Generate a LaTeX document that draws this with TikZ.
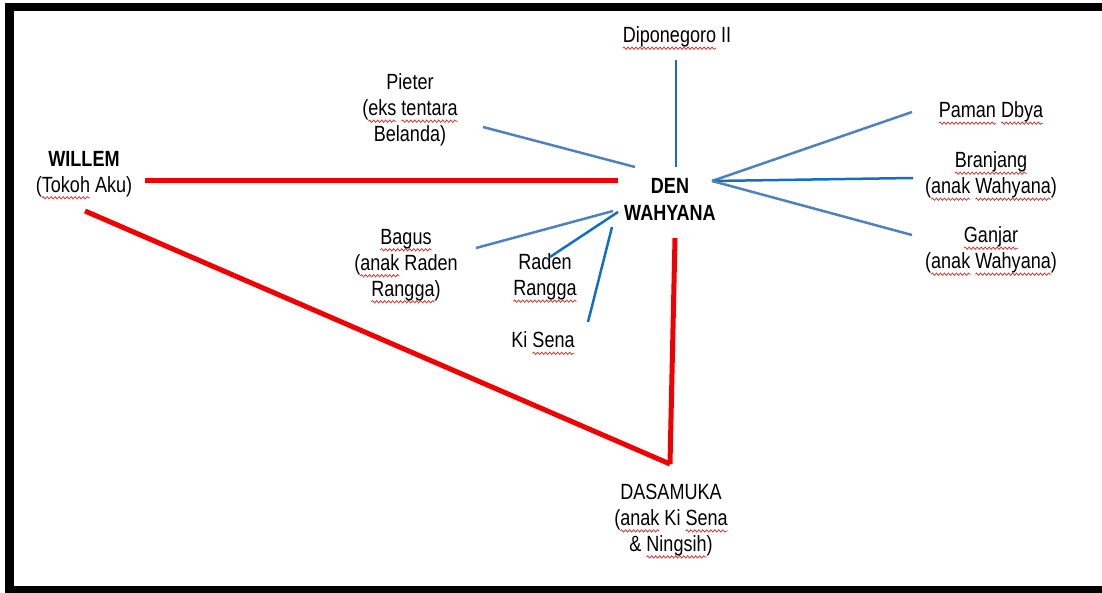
\documentclass[tikz,border=0pt]{standalone}
\usepackage{fontspec}
\setmainfont[FakeStretch=0.82]{Liberation Sans}
\usetikzlibrary{decorations.pathmorphing}
\definecolor{lblue}{RGB}{79,129,189}
\definecolor{bblue}{RGB}{20,110,195}
\definecolor{lred}{RGB}{240,0,0}
\definecolor{sqred}{RGB}{215,40,40}
\newsavebox\sqbox
\newlength\sqlen
\newcommand\sq[1]{\leavevmode\sbox\sqbox{#1}\setlength\sqlen{\wd\sqbox}%
  \rlap{\tikz[baseline=0pt]{\path (0pt,0pt);%
  \draw[overlay,sqred,line width=0.7pt,decorate,decoration={snake,amplitude=1.2pt,segment length=4pt}]%
   (0pt,-5.5pt) -- (\sqlen,-5.5pt);}}\usebox\sqbox}
\begin{document}
\begin{tikzpicture}[x=1pt,y=-1pt,
  lbl/.style={align=center,inner sep=0pt,font=\fontsize{22}{26}\selectfont},
  bluea/.style={draw=lblue,line width=2.5pt},
  blueb/.style={draw=bblue,line width=2.5pt},
  redl/.style={draw=lred,line width=5pt}]
\useasboundingbox (0,0) rectangle (1102,593);
% frame
\fill[black] (5,3) rectangle (1102,11);
\fill[black] (5,3) rectangle (14,593);
\fill[black] (5,586) rectangle (1102,593);
% labels
\node[lbl] (dip) at (677,37) {\sq{Diponegoro} II};
\node[lbl] (pieter) at (410,110) {Pieter\\(\sq{eks} \sq{tentara}\\Belanda)};
\node[lbl] (willem) at (84,174) {\textbf{WILLEM}\\(\sq{Tokoh} Aku)};
\node[lbl,font=\fontsize{22}{27}\selectfont\bfseries] (den) at (670,199) {DEN\\WAHYANA};
\node[lbl] (paman) at (991,112) {\sq{Paman} \sq{Dbya}};
\node[lbl] (branjang) at (991,175) {\sq{Branjang}\\(\sq{anak} \sq{Wahyana})};
\node[lbl] (ganjar) at (991,250) {\sq{Ganjar}\\(\sq{anak} \sq{Wahyana})};
\node[lbl] (bagus) at (406,265) {\sq{Bagus}\\(\sq{anak} Raden\\\sq{Rangga})};
\node[lbl] (raden) at (545,277) {Raden\\\sq{Rangga}};
\node[lbl] (kisena) at (543,340) {Ki \sq{Sena}};
\node[lbl] (dasa) at (671,520) {DASAMUKA\\(\sq{anak} Ki \sq{Sena}\\\& \sq{Ningsih})};
% connector end points
\coordinate (dipE) at (676,60);
\coordinate (denN) at (676,167);
\coordinate (pieE) at (483,127);
\coordinate (denNW) at (635,167);
\coordinate (denR) at (712,181);
\coordinate (pamW) at (912,112);
\coordinate (braW) at (913,178);
\coordinate (ganW) at (912,235);
\coordinate (bagE) at (476,248);
\coordinate (denSW1) at (613,211);
\coordinate (radE) at (550,257);
\coordinate (denSW2) at (618,212);
\coordinate (kisE) at (588,322);
\coordinate (denSW3) at (612,227);
\coordinate (wilE) at (145,181);
\coordinate (denW) at (618,181);
\coordinate (wilS) at (85,211);
\coordinate (denS) at (675,238);
\coordinate (dasN) at (670,464);
% connectors
\draw[blueb] (dipE) -- (denN);
\draw[bluea] (pieE) -- (denNW);
\draw[bluea] (denR) -- (pamW);
\draw[blueb] (denR) -- (braW);
\draw[bluea] (denR) -- (ganW);
\draw[bluea] (bagE) -- (denSW1);
\draw[blueb] (radE) -- (denSW2);
\draw[blueb] (kisE) -- (denSW3);
\draw[redl] (wilE) -- (denW);
\draw[redl] (wilS) -- (dasN);
\draw[redl] (denS) -- (dasN);
\end{tikzpicture}
\end{document}
